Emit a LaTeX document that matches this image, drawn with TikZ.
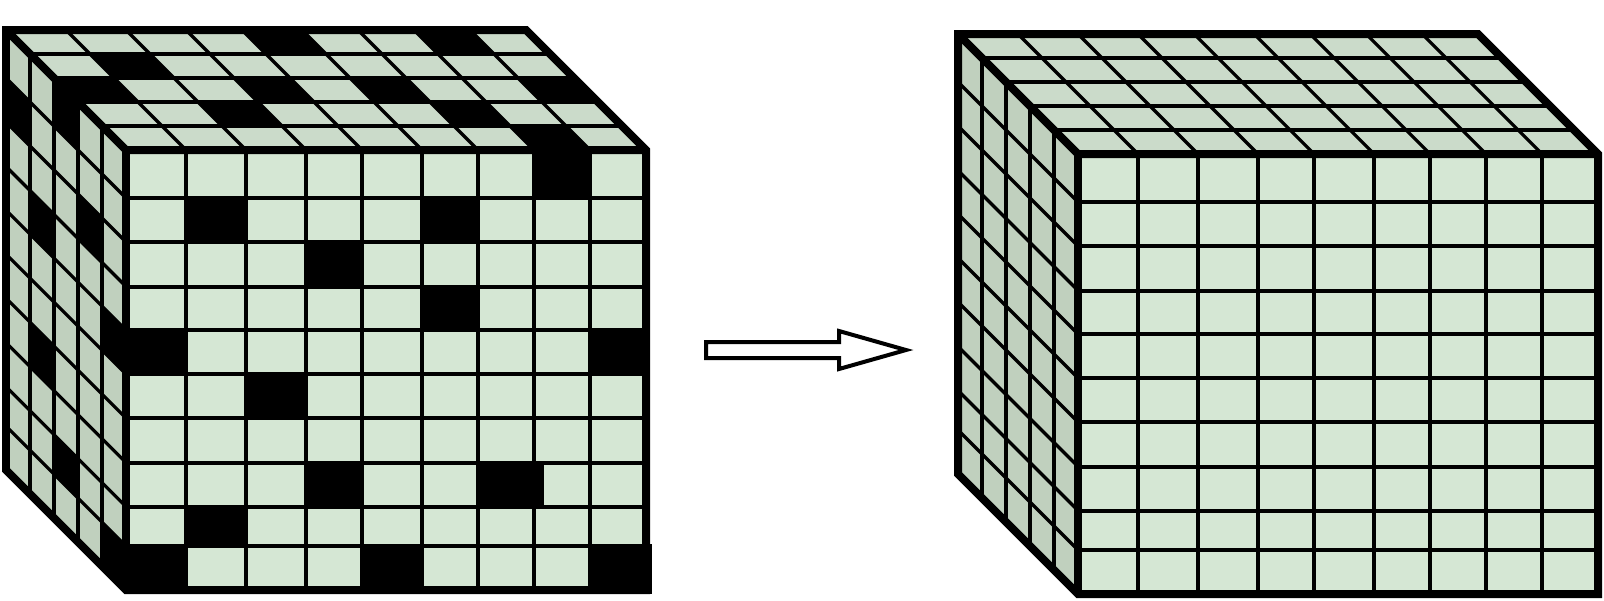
\documentclass[tikz,border=0pt]{standalone}
\usepackage{xcolor}
\usetikzlibrary{calc}
\definecolor{cubefront}{RGB}{213,231,212}
\definecolor{cubetop}{RGB}{203,219,202}
\definecolor{cubeleft}{RGB}{192,208,190}

\def\colx{{126,186,246,306,362,422,478,534,590,646}}
\def\rowy{{150,198,242,286.5,330,374,418,462.5,506.5,546,590}}

% one black cell on each face, #1 = row and #2 = column, counted from 1
\newcommand{\frontcell}[2]{
  \pgfmathsetmacro{\xa}{\colx[#2-1]}
  \pgfmathsetmacro{\xb}{\colx[#2]}
  \pgfmathsetmacro{\ya}{\rowy[#1-1]}
  \pgfmathsetmacro{\yb}{\rowy[#1]}
  \fill (\xa,\ya) rectangle (\xb,\yb);
}
\newcommand{\topcell}[2]{
  \pgfmathsetmacro{\xa}{\colx[#2-1]-120+24*(#1-1)}
  \pgfmathsetmacro{\xb}{\colx[#2]-120+24*(#1-1)}
  \pgfmathsetmacro{\ya}{30+24*(#1-1)}
  \fill (\xa,\ya) -- (\xb,\ya) -- ++(24,24) -- (\xa+24,\ya+24) -- cycle;
}
\newcommand{\leftcell}[2]{
  \pgfmathsetmacro{\xa}{6+24*(#2-1)}
  \pgfmathsetmacro{\ya}{\rowy[#1-1]-120+24*(#2-1)}
  \pgfmathsetmacro{\yb}{\rowy[#1]-120+24*(#2-1)}
  \fill (\xa,\ya) -- ++(24,24) -- (\xa+24,\yb+24) -- (\xa,\yb) -- cycle;
}

\newcommand{\cubefaces}{
  \fill[cubetop] (6,30) -- (526,30) -- (646,150) -- (126,150) -- cycle;
  \fill[cubeleft] (6,30) -- (126,150) -- (126,590) -- (6,470) -- cycle;
  \fill[cubefront] (126,150) rectangle (646,590);
}
\newcommand{\cubelines}{
  \foreach \x in {186,246,306,362,422,478,534,590}
    \draw[gridline] (\x,150) -- (\x,590);
  \foreach \y in {198,242,286.5,330,374,418,462.5,506.5,546}
    \draw[gridline] (126,\y) -- (646,\y);
  \foreach \x in {186,246,306,362,422,478,534,590}
    \draw[slantline] (\x-120,30) -- (\x,150);
  \foreach \d in {24,48,72,96}
    \draw[gridline] (6+\d,30+\d) -- (526+\d,30+\d);
  \foreach \d in {24,48,72,96}
    \draw[gridline] (6+\d,30+\d) -- (6+\d,470+\d);
  \foreach \y in {198,242,286.5,330,374,418,462.5,506.5,546}
    \draw[slantline] (6,\y-120) -- (126,\y);
  \draw[cubeedge] (6,30) -- (526,30) -- (646,150) -- (646,590) -- (126,590) -- (6,470) -- cycle;
  \draw[cubeedge] (6,30) -- (126,150) -- (646,150);
  \draw[cubeedge] (126,150) -- (126,590);
}

\begin{document}
\begin{tikzpicture}[
  x=0.02cm,y=-0.02cm,
  gridline/.style={line width=0.08cm},
  slantline/.style={line width=0.064cm},
  cubeedge/.style={line width=0.16cm},
  arrowline/.style={line width=0.08cm,fill=white}
]
\useasboundingbox (0,0) rectangle (1604,600);

% cube with missing cells
\begin{scope}
\cubefaces
\foreach \r/\c in {1/8,2/2,2/6,3/4,4/6,5/1,5/9,6/3,8/4,8/7,9/2,10/1,10/5,10/9}
  {\frontcell{\r}{\c}}
\foreach \r/\c in {1/5,1/8,2/2,3/1,3/4,3/6,3/9,4/3,4/7,5/8}
  {\topcell{\r}{\c}}
\foreach \r/\c in {2/1,4/2,7/2,1/3,9/3,3/4,5/5,10/5}
  {\leftcell{\r}{\c}}
\fill (534,462) rectangle (544,506);
\fill (590,544) rectangle (652,594);
\cubelines
\end{scope}

% arrow
\draw[arrowline] (706,342) -- (839,342) -- (839,331) -- (906,350) -- (839,369) -- (839,358) -- (706,358) -- cycle;

% completed cube
\begin{scope}[shift={(952,4)}]
\cubefaces
\cubelines
\end{scope}
\end{tikzpicture}
\end{document}
